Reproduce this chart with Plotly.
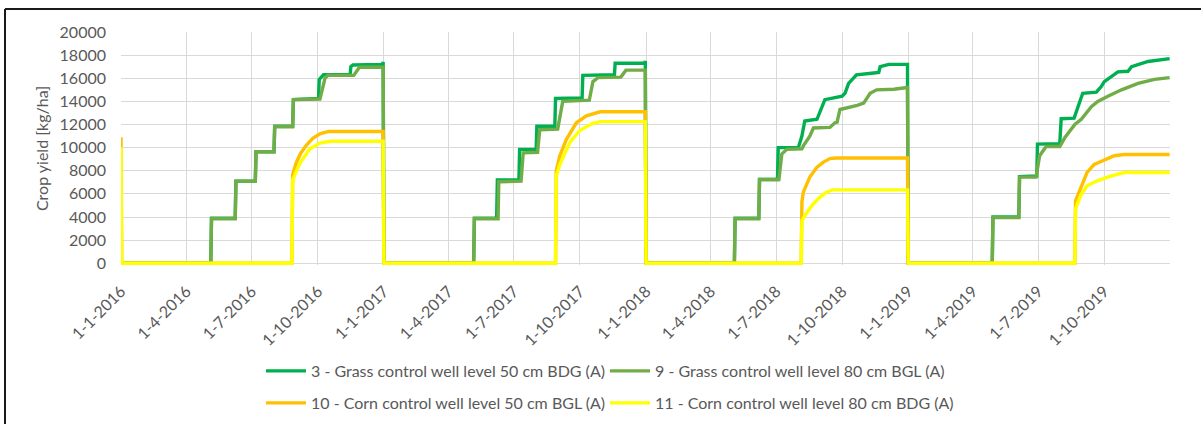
import plotly.graph_objects as go

# ---------------- data (kg/ha, cumulative crop yield) ----------------
grass50_dates = [
    "2016-01-01", "2016-05-05", "2016-05-06", "2016-06-08", "2016-06-09", "2016-07-06", "2016-07-07",
    "2016-08-01", "2016-08-02", "2016-08-27", "2016-08-28", "2016-10-02", "2016-10-03", "2016-10-09",
    "2016-11-15", "2016-11-16", "2016-11-19", "2016-12-30", "2016-12-31",
    "2017-01-01", "2017-05-06", "2017-05-07", "2017-06-07", "2017-06-08", "2017-07-08", "2017-07-09",
    "2017-08-01", "2017-08-02", "2017-08-27", "2017-08-28", "2017-10-04", "2017-10-05", "2017-11-18",
    "2017-11-19", "2017-12-30", "2017-12-31",
    "2018-01-01", "2018-05-04", "2018-05-05", "2018-06-07", "2018-06-08", "2018-07-03", "2018-07-04",
    "2018-08-01", "2018-08-06", "2018-08-10", "2018-08-27", "2018-09-01", "2018-09-07", "2018-10-01",
    "2018-10-05", "2018-10-10", "2018-10-21", "2018-11-14", "2018-11-21", "2018-11-23", "2018-12-05",
    "2018-12-31",
    "2019-01-01", "2019-04-28", "2019-04-29", "2019-06-04", "2019-06-05", "2019-06-29", "2019-06-30",
    "2019-07-31", "2019-08-02", "2019-08-20", "2019-09-01", "2019-09-20", "2019-09-27", "2019-10-01",
    "2019-10-11", "2019-10-20", "2019-11-03", "2019-11-08", "2019-12-01", "2019-12-31",
]
grass50_kg = [
    0, 0, 3900, 3900, 7100, 7100, 9650,
    9650, 11850, 11850, 14150, 14250, 15900, 16300,
    16300, 17000, 17150, 17200, 17400,
    0, 0, 3900, 3900, 7200, 7200, 9850,
    9850, 11850, 11850, 14250, 14300, 16250, 16300,
    17300, 17300, 17500,
    0, 0, 3900, 3900, 7250, 7250, 10000,
    10000, 11000, 12300, 12450, 13150, 14150, 14450,
    14700, 15550, 16300, 16450, 16500, 17000, 17200,
    17200,
    0, 0, 4000, 4000, 7500, 7550, 10300,
    10350, 12500, 12550, 14700, 14800, 15300, 15700,
    16150, 16550, 16600, 17000, 17450, 17700,
]

grass80_dates = [
    "2016-01-01", "2016-05-05", "2016-05-06", "2016-06-08", "2016-06-09", "2016-07-06", "2016-07-07",
    "2016-08-01", "2016-08-02", "2016-08-27", "2016-08-28", "2016-10-04", "2016-10-11", "2016-10-15",
    "2016-11-20", "2016-11-28", "2016-12-31",
    "2017-01-01", "2017-05-06", "2017-05-07", "2017-06-09", "2017-06-10", "2017-07-11", "2017-07-14",
    "2017-08-03", "2017-08-06", "2017-08-31", "2017-09-07", "2017-10-14", "2017-10-19", "2017-10-26",
    "2017-11-27", "2017-12-04", "2017-12-31",
    "2018-01-01", "2018-05-04", "2018-05-05", "2018-06-07", "2018-06-08", "2018-07-05", "2018-07-09",
    "2018-07-16", "2018-08-06", "2018-08-08", "2018-08-17", "2018-08-22", "2018-09-14", "2018-09-21",
    "2018-09-24", "2018-09-28", "2018-10-22", "2018-10-31", "2018-11-09", "2018-11-18", "2018-12-12",
    "2018-12-31",
    "2019-01-01", "2019-04-28", "2019-04-29", "2019-06-04", "2019-06-05", "2019-06-28", "2019-07-03",
    "2019-07-12", "2019-07-31", "2019-08-07", "2019-08-21", "2019-08-30", "2019-09-13", "2019-09-22",
    "2019-10-06", "2019-10-25", "2019-11-17", "2019-12-10", "2019-12-31",
]
grass80_kg = [
    0, 0, 3850, 3850, 7100, 7100, 9650,
    9650, 11800, 11800, 14150, 14200, 16000, 16250,
    16250, 16950, 16950,
    0, 0, 3850, 3850, 7050, 7100, 9550,
    9600, 11550, 11600, 14000, 14100, 15700, 16050,
    16100, 16700, 16700,
    0, 0, 3850, 3850, 7250, 7250, 9450,
    9850, 9900, 10150, 11000, 11700, 11750, 12150,
    12200, 13300, 13650, 13850, 14700, 15000, 15050,
    15200,
    0, 0, 3950, 3950, 7450, 7450, 9300,
    10100, 10100, 10850, 12000, 12450, 13550, 14000,
    14450, 15000, 15550, 15900, 16050,
]

corn50_dates = [
    "2016-01-01", "2016-01-02", "2016-08-26", "2016-08-27", "2016-09-01", "2016-09-07", "2016-09-15",
    "2016-09-24", "2016-10-04", "2016-10-16", "2016-12-31",
    "2017-01-01", "2017-08-28", "2017-08-29", "2017-09-03", "2017-09-12", "2017-09-26", "2017-10-10",
    "2017-10-29", "2017-12-31",
    "2018-01-01", "2018-08-05", "2018-08-06", "2018-08-08", "2018-08-17", "2018-08-27", "2018-09-05",
    "2018-09-14", "2018-09-23", "2018-12-31",
    "2019-01-01", "2019-08-21", "2019-08-22", "2019-08-29", "2019-09-07", "2019-09-17", "2019-09-26",
    "2019-10-15", "2019-10-29", "2019-12-31",
]
corn50_kg = [
    10900, 0, 0, 7650, 8700, 9500, 10200,
    10800, 11200, 11400, 11400,
    0, 0, 8000, 9300, 10700, 12150, 12750,
    13100, 13100,
    0, 0, 5300, 6150, 7450, 8300, 8750,
    9050, 9100, 9100,
    0, 0, 5400, 6450, 7850, 8550, 8800,
    9300, 9400, 9400,
]

corn80_dates = [
    "2016-01-01", "2016-01-02", "2016-08-26", "2016-08-27", "2016-08-31", "2016-09-06", "2016-09-20",
    "2016-10-04", "2016-10-18", "2016-12-31",
    "2017-01-01", "2017-08-28", "2017-08-29", "2017-09-03", "2017-09-17", "2017-10-01", "2017-10-19",
    "2017-10-29", "2017-12-31",
    "2018-01-01", "2018-08-05", "2018-08-06", "2018-08-12", "2018-08-22", "2018-08-31", "2018-09-09",
    "2018-09-18", "2018-12-31",
    "2019-01-01", "2019-08-21", "2019-08-22", "2019-08-29", "2019-09-07", "2019-09-22", "2019-10-11",
    "2019-10-29", "2019-12-31",
]
corn80_kg = [
    10050, 0, 0, 7200, 7800, 8650, 9900,
    10400, 10550, 10550,
    0, 0, 7550, 8550, 10450, 11500, 12100,
    12250, 12250,
    0, 0, 3700, 4300, 5150, 5700, 6150,
    6350, 6350,
    0, 0, 4700, 5850, 6700, 7150, 7550,
    7850, 7850,
]

series_names = [
    "3 - Grass control well level 50 cm BDG (A)",
    "9 - Grass control well level 80 cm BGL (A)",
    "10 - Corn control well level 50 cm BGL (A)",
    "11 - Corn control well level 80 cm BDG (A)",
]
series_colors = ["#00B050", "#70AD47", "#FFC000", "#FFFF00"]
y_ticks = [0, 2000, 4000, 6000, 8000, 10000, 12000, 14000, 16000, 18000, 20000]

# ---------------- figure ----------------
FONT = "Lato"
FS = 16
GREY = "#595959"
W, H = 1201, 424
ML, MR, MT, MB = 121, 31, 32, 159

# one legend box per entry: (legend id, left px, row centre px)
legend_slots = [("legend", 261, 371), ("legend2", 605, 371),
                ("legend3", 261, 403), ("legend4", 605, 403)]

fig = go.Figure()
series = [
    (grass50_dates, grass50_kg),
    (grass80_dates, grass80_kg),
    (corn50_dates, corn50_kg),
    (corn80_dates, corn80_kg),
]
for (d, v), name, col, slot in zip(series, series_names, series_colors, legend_slots):
    fig.add_trace(go.Scatter(
        x=d, y=v, mode="lines", name=name, legend=slot[0],
        line=dict(color=col, width=3.4),
    ))

plot_w = W - ML - MR
plot_h = H - MT - MB
y_lo, y_hi = -150, 20000


def paper_x(px):
    return (px - ML) / plot_w


def paper_y(py):
    # pixel row -> paper coordinate
    zero_px = H - MB
    return (zero_px - py) / plot_h


frame = dict(type="line", xref="paper", yref="paper",
             line=dict(color="#1a1a1a", width=2), layer="above")
fig.add_shape(**frame, x0=paper_x(5), x1=paper_x(W + 5), y0=paper_y(9), y1=paper_y(9))
fig.add_shape(**frame, x0=paper_x(5), x1=paper_x(5), y0=paper_y(9), y1=paper_y(H + 5))

legend_common = dict(
    orientation="h", xref="container", yref="container",
    xanchor="left", yanchor="middle",
    font=dict(family=FONT, size=FS, color=GREY),
    itemwidth=40, bgcolor="rgba(0,0,0,0)",
)
legends = {lid: dict(**legend_common, x=lx / W, y=1 - ly / H)
           for lid, lx, ly in legend_slots}

fig.update_layout(
    width=W, height=H,
    margin=dict(l=ML, r=MR, t=MT, b=MB, pad=0, autoexpand=False),
    paper_bgcolor="white", plot_bgcolor="white",
    font=dict(family=FONT, size=FS, color=GREY),
    showlegend=True,
    **legends,
    xaxis=dict(
        type="date", automargin=False,
        range=["2016-01-01", "2019-12-31 12:00"],
        tick0="2016-01-01", dtick="M3",
        tickformat="%-d-%-m-%Y", tickangle=-45,
        showgrid=True, gridcolor="#D9D9D9", gridwidth=1,
        showline=False, zeroline=False, ticks="",
        ticklabelstandoff=13,
        tickfont=dict(family=FONT, size=FS, color=GREY),
    ),
    yaxis=dict(
        range=[y_lo, y_hi], tickvals=y_ticks, tickformat="d", automargin=False,
        showgrid=True, gridcolor="#D9D9D9", gridwidth=1,
        zeroline=True, zerolinecolor="#D9D9D9", zerolinewidth=1,
        showline=False, ticks="", ticklabelstandoff=14,
        tickfont=dict(family=FONT, size=FS, color=GREY),
        title=dict(text="Crop yield [kg/ha]", standoff=6,
                   font=dict(family=FONT, size=FS, color=GREY)),
    ),
)

fig.write_html("out.html")
